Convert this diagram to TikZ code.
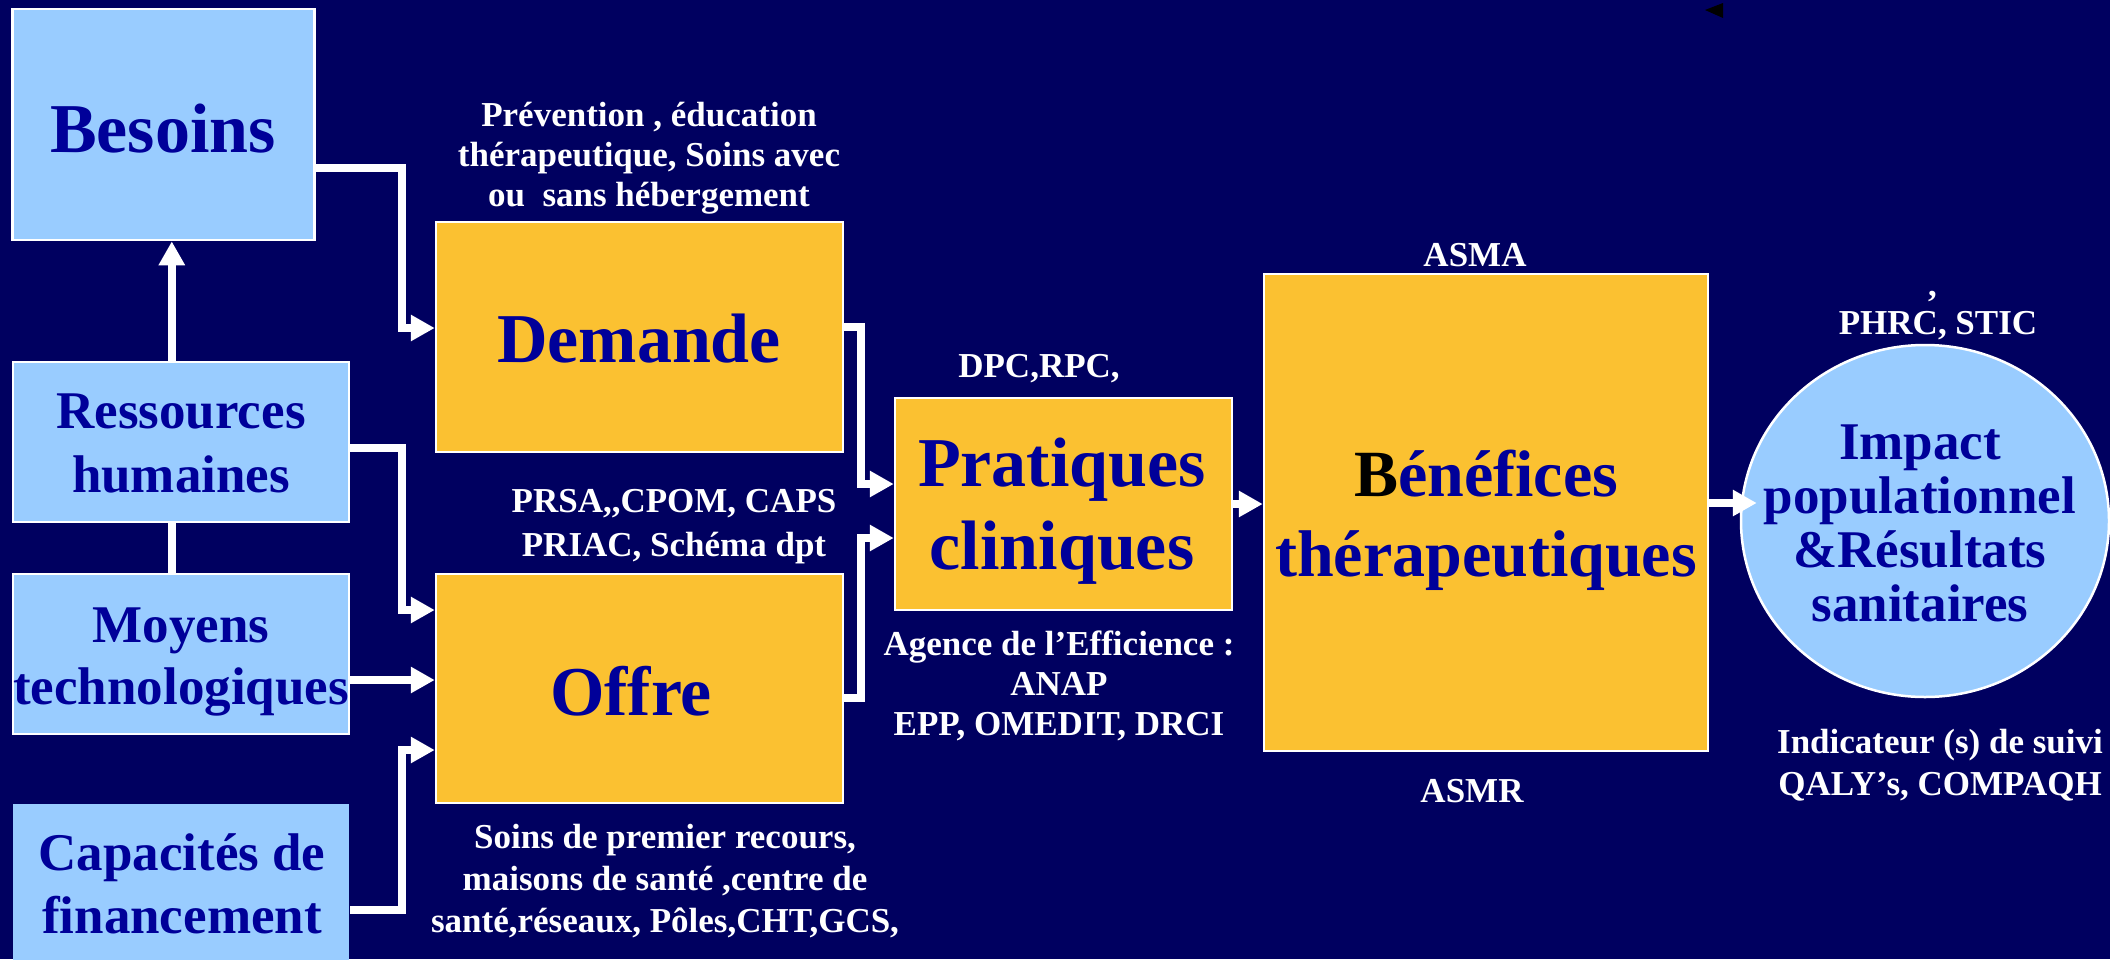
\documentclass[tikz,border=0pt]{standalone}
\usepackage{fontspec}
\setmainfont{Liberation Serif}
\usetikzlibrary{arrows.meta,shapes.geometric,calc}
\definecolor{navy}{HTML}{000060}
\definecolor{lblue}{HTML}{99CCFF}
\definecolor{orng}{HTML}{FBC131}
\definecolor{tblue}{HTML}{000099}
\newcommand\mlines[1]{\begin{tabular}[t]{@{}c@{}}#1\end{tabular}}
\tikzset{
  bluebox/.style={rectangle, fill=lblue, draw=white, line width=2.5pt, inner sep=0pt},
  orangebox/.style={rectangle, fill=orng, draw=white, line width=2.5pt, inner sep=0pt},
  boxtext/.style={anchor=base, text=tblue, inner sep=0pt},
  lbl/.style={anchor=base, text=white, inner sep=0pt, font=\bfseries\fontsize{35pt}{40pt}\selectfont},
  conn/.style={draw=white, line width=8pt, -{Triangle[width=25pt,length=24pt]}},
  plainline/.style={draw=white, line width=8pt},
}
\begin{document}
\begin{tikzpicture}[x=1pt,y=-1pt]
\useasboundingbox (0,0) rectangle (2127,959);
\fill[white] (0,0) rectangle (2127,959);
\fill[navy] (0,0) rectangle (2110,959);
\fill[black] (1705,10) -- (1723,3) -- (1723,18) -- cycle;

% boxes
\node[bluebox, minimum width=302pt, minimum height=231pt] (bes) at (163.6,124.6) {};
\node[bluebox, minimum width=336pt, minimum height=160pt] (res) at (180.8,442) {};
\node[bluebox, minimum width=336pt, minimum height=160pt] (moy) at (180.8,654) {};
\node[bluebox, draw=none, minimum width=336pt, minimum height=176pt] (cap) at (180.8,892) {};
\node[orangebox, minimum width=407pt, minimum height=230pt] (dem) at (639.5,337) {};
\node[orangebox, minimum width=407pt, minimum height=229pt] (off) at (639.5,688.5) {};
\node[orangebox, minimum width=337pt, minimum height=212pt] (pra) at (1063.5,504) {};
\node[orangebox, minimum width=444pt, minimum height=477pt] (ben) at (1486,512.5) {};
\node[ellipse, fill=lblue, draw=white, line width=2.5pt, inner sep=0pt, minimum width=368pt, minimum height=352pt] (imp) at (1925,521) {};

% box texts
\node[boxtext, font=\bfseries\fontsize{70pt}{84pt}\selectfont] (besT) at (163,152) {Besoins};
\node[boxtext, font=\bfseries\fontsize{53pt}{64pt}\selectfont] (resT) at (181,428) {\mlines{Ressources\\humaines}};
\node[boxtext, font=\bfseries\fontsize{53pt}{62pt}\selectfont] (moyT) at (181,642) {\mlines{Moyens\\technologiques}};
\node[boxtext, font=\bfseries\fontsize{53pt}{63pt}\selectfont] (capT) at (182,870) {\mlines{Capacités de\\financement}};
\node[boxtext, font=\bfseries\fontsize{70pt}{84pt}\selectfont] (demT) at (639,362) {Demande};
\node[boxtext, font=\bfseries\fontsize{70pt}{84pt}\selectfont] (offT) at (631,715) {Offre};
\node[boxtext, font=\bfseries\fontsize{70pt}{83pt}\selectfont] (praT) at (1062,486) {\mlines{Pratiques\\cliniques}};
\node[boxtext, font=\bfseries\fontsize{66pt}{80pt}\selectfont] (benT) at (1486,496) {\mlines{{\color{black}B}énéfices\\thérapeutiques}};
\node[boxtext, font=\bfseries\fontsize{53pt}{54pt}\selectfont] (impT) at (1920,459) {\mlines{Impact\\populationnel\\\&Résultats\\sanitaires}};

% white labels
\node[lbl] (prevL) at (649,126) {\mlines{Prévention , éducation\\thérapeutique, Soins avec\\ou~~sans hébergement}};
\node[lbl, font=\bfseries\fontsize{35pt}{44pt}\selectfont] (prsaL) at (674,512) {\mlines{PRSA,\kern0pt,CPOM, CAPS\\PRIAC, Schéma dpt}};
\node[lbl, font=\bfseries\fontsize{35pt}{42pt}\selectfont] (soinsL) at (665,848) {\mlines{Soins de premier recours,\\maisons de santé ,centre de\\santé,réseaux, Pôles,CHT,GCS,}};
\node[lbl] (dpcL) at (1039,377) {DPC,RPC,};
\node[lbl] (agL) at (1059,655) {\mlines{Agence de l’Efficience :\\ANAP\\EPP, OMEDIT, DRCI}};
\node[lbl] (asmaL) at (1475,266) {ASMA};
\node[lbl] (asmrL) at (1472,802) {ASMR};
\node[lbl] (phrcL) at (1938,334) {PHRC\makebox[0pt][r]{\raisebox{20pt}{’}}, STIC};
\node[lbl, font=\bfseries\fontsize{35pt}{42pt}\selectfont] (indL) at (1940,753) {\mlines{Indicateur (s) de suivi\\QALY’s, COMPAQH}};

% ports
\coordinate (lbus) at (402,0);
\coordinate (rbus) at (861,0);
\coordinate (res-u) at ($(res.north)+(-9,0)$);
\coordinate (res-d) at ($(res.south)+(-9,0)$);
\coordinate (bes-o) at ($(bes.east)+(0,43)$);
\coordinate (dem-i) at ($(dem.west)+(0,-9)$);
\coordinate (res-o) at ($(res.east)+(0,6)$);
\coordinate (off-i1) at ($(off.west)+(0,-78.5)$);
\coordinate (moy-o) at ($(moy.east)+(0,26)$);
\coordinate (cap-o) at ($(cap.east)+(0,18)$);
\coordinate (off-i3) at ($(off.west)+(0,61.5)$);
\coordinate (dem-o) at ($(dem.east)+(0,-10)$);
\coordinate (pra-i1) at ($(pra.west)+(0,-20)$);
\coordinate (off-o) at ($(off.east)+(0,9.5)$);
\coordinate (pra-i2) at ($(pra.west)+(0,34)$);
\coordinate (ben-o) at ($(ben.east)+(0,-9.5)$);
\coordinate (imp-i) at ($(ben-o -| imp.west)+(17,0)$);

% connectors
\draw[conn] (res-u) -- (res-u |- bes.south);
\draw[plainline] (res-d) -- (res-d |- moy.north);
\draw[conn] (bes-o) -| (lbus |- dem-i) -- (dem-i);
\draw[conn] (res-o) -| (lbus |- off-i1) -- (off-i1);
\draw[conn] (moy-o) -- (moy-o -| off.west);
\draw[conn] (cap-o) -| (lbus |- off-i3) -- (off-i3);
\draw[conn] (dem-o) -| (rbus |- pra-i1) -- (pra-i1);
\draw[conn] (off-o) -| (rbus |- pra-i2) -- (pra-i2);
\draw[conn] (pra.east) -- (pra.east -| ben.west);
\draw[conn] (ben-o) -- (imp-i);
\end{tikzpicture}
\end{document}
